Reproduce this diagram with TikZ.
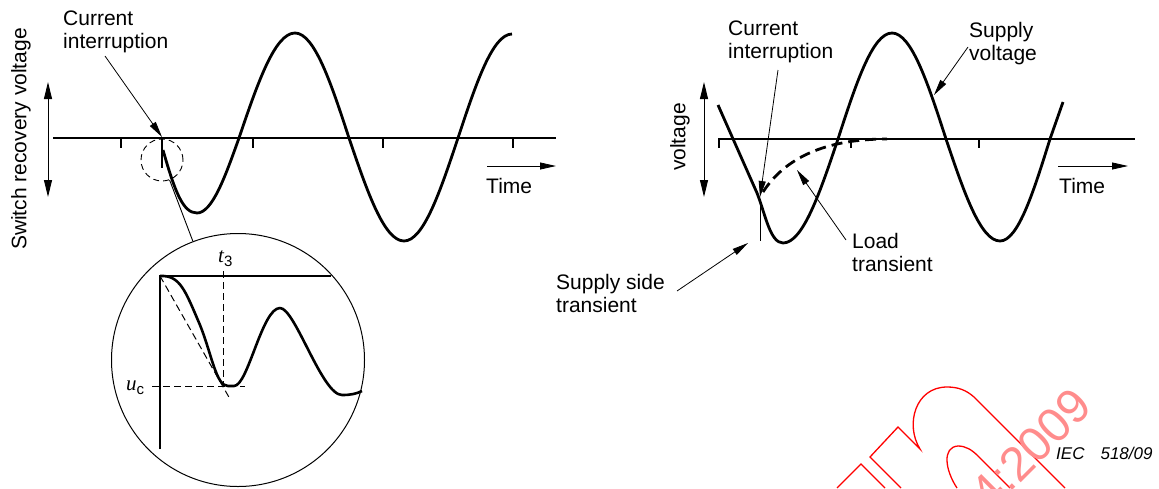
\documentclass[tikz,border=0pt]{standalone}
\usepackage{fontspec}
\setmainfont{Liberation Sans}
\newfontfamily\timesfont{Liberation Serif}
\usetikzlibrary{arrows.meta}
\newcommand{\subtxt}[1]{\raisebox{-4pt}{\fontsize{15}{15}\selectfont #1}}

\begin{document}
\begin{tikzpicture}[x=1pt, y=-1pt]
\tikzstyle{lbl} = [font=\fontsize{21}{23}\selectfont, align=left, inner sep=0pt, anchor=north west]
\tikzstyle{axisline} = [line width=1.3pt]
\tikzstyle{waveline} = [line width=2.8pt, line join=round]
\tikzstyle{ptr} = [line width=0.8pt, -{Triangle[length=16pt,width=7pt]}]
\tikzstyle{dbl} = [line width=1pt, {Triangle[length=17pt,width=8pt]}-{Triangle[length=17pt,width=8pt]}]
\tikzstyle{guide} = [line width=1pt, dash pattern=on 7pt off 4pt]
\tikzstyle{stamp} = [red, line width=1.3pt]

\clip (0,0) rectangle (1159,488);

% switch recovery voltage
\draw[axisline] (53,138) -- (556,138);
\foreach \x in {121,253,383,513} \draw[axisline] (\x,138) -- (\x,148);
\coordinate (sv top) at (48,82);
\coordinate (sv bot) at (48,197);
\draw[dbl] (sv top) -- (sv bot);
\node[lbl, rotate=90, anchor=center] (svlabel) at (21,139) {Switch recovery voltage};
\coordinate (t1a) at (487,166);
\coordinate (t1b) at (556,166);
\draw[ptr] (t1a) -- (t1b);
\node[lbl, anchor=base west] (time1) at (486,193) {Time};

\draw[line width=1.6pt] (162,138) -- (162,168);
\draw[waveline] (163,150) .. controls (175,192) and (183,213) .. (197,213)
  cos (239,138) sin (295,33) cos (349,138) sin (404,241) cos (458,138) sin (512,34);

\node[lbl] (ci1) at (63,11) {Current\\interruption};
\coordinate (ci1 tail) at (105,56);
\coordinate (ci1 tip) at (162,137);
\draw[ptr] (ci1 tail) -- (ci1 tip);

\node[circle, draw, line width=0.9pt, dash pattern=on 6pt off 4pt, minimum size=42pt, inner sep=0pt] (spot) at (162,160) {};
\node[circle, draw, line width=1pt, minimum size=253pt, inner sep=0pt] (lens) at (238,360) {};
\draw[line width=0.9pt] (spot) -- (lens);

% magnified part
\draw[line width=1.2pt] (160,449) -- (160,276) -- (331,276);
\draw[guide] (223,271) -- (223,386);
\draw[guide] (152,386) -- (245,386);
\draw[guide] (160,276) -- (230,399);
\draw[waveline, line width=2.6pt] (160,276) .. controls (180,275) and (185,290) .. (200,325)
  .. controls (212,355) and (216,386) .. (228,386) -- (234,386)
  .. controls (248,386) and (262,308) .. (280,308)
  .. controls (295,308) and (322,395) .. (342,395)
  .. controls (350,395) and (356,394) .. (362,391);
\node[lbl, anchor=base west] (t3) at (218,262) {{\timesfont\itshape t}\subtxt{3}};
\node[lbl, anchor=base west] (uc) at (126,390) {{\timesfont\itshape u}\subtxt{c}};

% supply and load voltage
\draw[axisline] (718,139) -- (1135,139);
\foreach \x in {719,851,979} \draw[axisline] (\x,139) -- (\x,148);
\coordinate (v top) at (704,82);
\coordinate (v bot) at (704,197);
\draw[dbl] (v top) -- (v bot);
\node[lbl, rotate=90, anchor=center] (vlabel) at (680,137) {voltage};
\coordinate (t2a) at (1058,166);
\coordinate (t2b) at (1128,166);
\draw[ptr] (t2a) -- (t2b);
\node[lbl, anchor=base west] (time2) at (1059,193) {Time};

\draw[waveline] (718,105) -- (757,193) .. controls (765,213) and (770,243) .. (783,243)
  cos (838,139) sin (892,33) cos (946,139) sin (1000,241) cos (1050,139) -- (1063,102);
\draw[line width=1pt] (760,200) -- (760,241);
\draw[waveline, dash pattern=on 11pt off 6pt] (763,192) .. controls (785,158) and (825,139) .. (887,139);

\node[lbl] (ci2) at (728,21) {Current\\interruption};
\coordinate (ci2 tail) at (778,70);
\coordinate (ci2 tip) at (760,197);
\draw[ptr] (ci2 tail) -- (ci2 tip);

\node[lbl] (supply) at (969,22) {Supply\\voltage};
\coordinate (sup tail) at (968,47);
\coordinate (sup tip) at (934,95);
\draw[ptr] (sup tail) -- (sup tip);

\node[lbl] (load) at (852,233) {Load\\transient};
\coordinate (load tail) at (846,240);
\coordinate (load tip) at (797,170);
\draw[ptr] (load tail) -- (load tip);

\node[lbl] (sst) at (556,274) {Supply side\\transient};
\coordinate (sst tail) at (677,291);
\coordinate (sst tip) at (748,243);
\draw[ptr] (sst tail) -- (sst tip);

% stamp
\draw[stamp] (837,488) -- (861,464) -- (885,488);
\draw[stamp] (901,488) -- (870,457) -- (898,427) -- (920,449)
  .. controls (905,425) and (915,387) .. (947,387)
  .. controls (958,387) and (966,390) .. (974,397) -- (1065,488);
\draw[stamp] (957,488) .. controls (945,470) and (942,447) .. (958,446)
  .. controls (966,446) and (972,450) .. (978,456) -- (1010,488);
\node[rotate=45, text=red!45, font=\fontsize{48}{48}\selectfont, inner sep=0pt] (stamptxt) at (1031,449) {4:2009};

\node[font=\fontsize{17}{17}\selectfont\itshape, anchor=base west, inner sep=0pt] (iec) at (1056,459) {IEC\hspace{16pt}518/09};
\end{tikzpicture}
\end{document}
